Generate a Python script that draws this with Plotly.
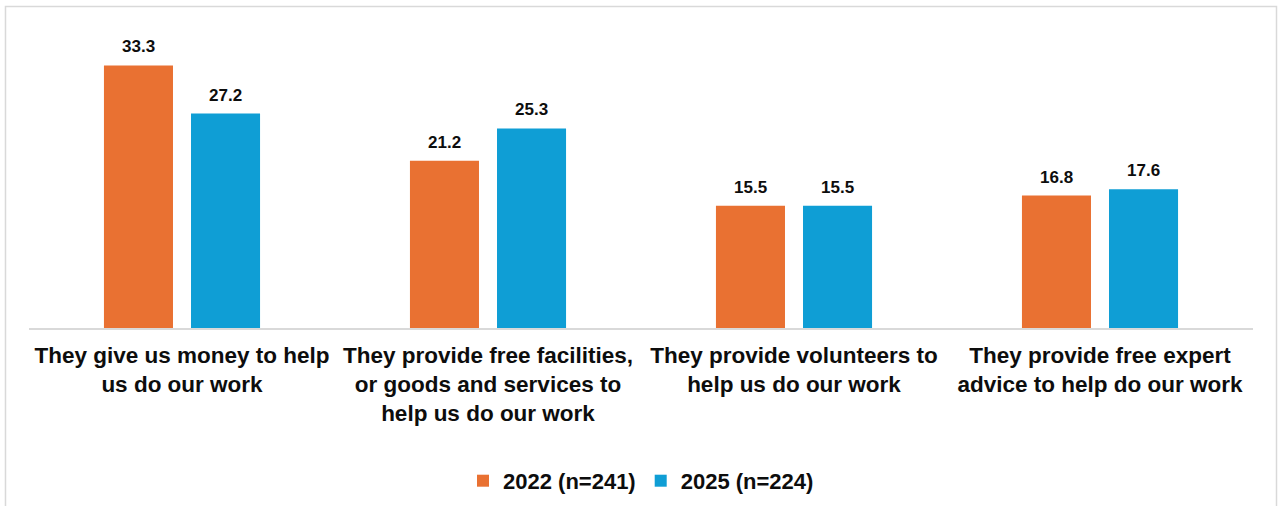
import plotly.graph_objects as go

categories = [
    "They give us money to help<br>us do our work",
    "They provide free facilities,<br>or goods and services to<br>help us do our work",
    "They provide volunteers to<br>help us do our work",
    "They provide free expert<br>advice to help do our work",
]
series_names = ["2022 (n=241)", "2025 (n=224)"]
values_2022 = [33.3, 21.2, 15.5, 16.8]
values_2025 = [27.2, 25.3, 15.5, 17.6]
colors = ["#E97132", "#0F9ED5"]

FONT = "Liberation Sans, Arial, sans-serif"
TEXT = "#0d0d0d"

fig = go.Figure()
for name, vals, col in zip(series_names, [values_2022, values_2025], colors):
    fig.add_trace(go.Bar(
        x=categories, y=vals, name=f"<b>{name}</b>",
        marker=dict(color=col, line=dict(width=0)),
        cliponaxis=False,
    ))

# value labels above each bar (offset left/right for the two grouped series)
for vals, shift in zip([values_2022, values_2025], [-43.5, 43.5]):
    for cat, v in zip(categories, vals):
        fig.add_annotation(
            x=cat, y=v, xref="x", yref="y", xshift=shift, yshift=7,
            text=f"<b>{v:.1f}</b>", showarrow=False, yanchor="bottom",
            font=dict(family=FONT, size=17, color=TEXT),
        )

# light grey frame around the chart
fig.add_shape(type="rect", xref="paper", yref="paper",
              x0=-0.0192, x1=1.0192, y0=-0.7, y1=1.165,
              line=dict(color="#d9d9d9", width=1.5), fillcolor="rgba(0,0,0,0)",
              layer="below")

fig.update_layout(
    width=1279, height=506,
    margin=dict(l=29, r=26, t=52, b=178, autoexpand=False),
    paper_bgcolor="white", plot_bgcolor="white",
    barmode="group", bargap=0.431, bargroupgap=0.207,
    font=dict(family=FONT, color=TEXT),
    showlegend=True,
    legend=dict(orientation="h", x=0.5, xanchor="center", y=-0.554, yanchor="middle",
                font=dict(family=FONT, size=22, color=TEXT),
                traceorder="normal", itemwidth=30),
    xaxis=dict(showline=True, linecolor="#d9d9d9", linewidth=1.5, ticks="",
               tickfont=dict(family=FONT, size=22.5, color=TEXT),
               ticklabelstandoff=6,
               tickvals=categories, ticktext=[f"<b>{c}</b>" for c in categories],
               showgrid=False, fixedrange=True, automargin=False),
    yaxis=dict(range=[0, 35], visible=False, showgrid=False, fixedrange=True),
)

fig.write_html("out.html")
